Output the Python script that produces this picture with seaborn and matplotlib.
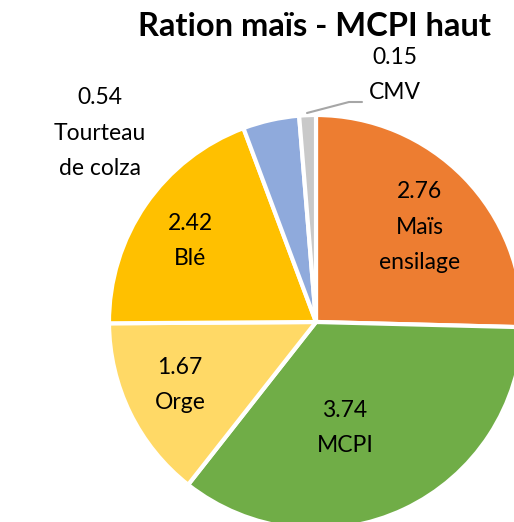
import numpy as np
import matplotlib
matplotlib.use("Agg")
import matplotlib.pyplot as plt
import seaborn as sns

categories = ['Maïs\nensilage', 'MCPI', 'Orge', 'Blé', 'Tourteau\nde colza', 'CMV']
values = [2.76, 3.74, 1.67, 2.42, 0.54, 0.15]
# slice shares (%) as drawn in the picture (they do not follow the labels exactly)
slice_share = [25.4, 35.2, 14.3, 19.4, 4.4, 1.3]
colors = ['#ED7D31', '#70AD47', '#FFD966', '#FFC000', '#8FAADC', '#C9C9C9']
title = 'Ration maïs - MCPI haut'

sns.set_theme(style="white")
plt.rcParams['font.family'] = ['Lato', 'DejaVu Sans']

W, H = 514, 522
fig = plt.figure(figsize=(W / 100, H / 100), dpi=100)
cx, cy, r = 316, 322, 207
ax = fig.add_axes([(cx - r) / W, (H - cy - r) / H, 2 * r / W, 2 * r / H])

wedges, _ = ax.pie(slice_share, colors=colors, startangle=90, counterclock=False,
                   radius=1, wedgeprops=dict(edgecolor='white', linewidth=3))
ax.set_xlim(-1, 1)
ax.set_ylim(-1, 1)
ax.set_aspect('equal')
ax.axis('off')

# label positions (pixel coords in the original picture) for each slice
label_pos = [(420, 227), (345, 428), (180, 385), (190, 241), (100, 133), (395, 75)]
for cat, val, (px, py) in zip(categories, values, label_pos):
    x = (px - cx) / r
    y = (cy - py) / r
    ax.text(x, y, f'{val:.2f}\n{cat}', ha='center', va='center', fontsize=16.5,
            color='black', linespacing=1.85, clip_on=False)

# leader line for CMV
pts = [(307, 113), (349, 102), (362, 102)]
ax.plot([(p[0] - cx) / r for p in pts], [(cy - p[1]) / r for p in pts],
        color='#A6A6A6', lw=1.5, clip_on=False)

fig.text(315 / W, 1 - 27 / H, title, ha='center', va='center', fontsize=23.5,
         fontweight='bold', color='black')

fig.savefig('out.png', dpi=100)
